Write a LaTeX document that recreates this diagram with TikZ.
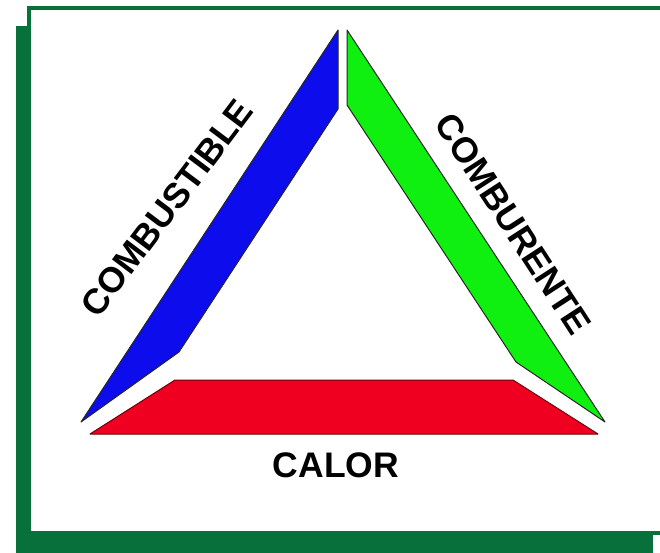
\documentclass[tikz,border=0pt]{standalone}
\usepackage{fontspec}
\setmainfont{Liberation Sans}
\usepackage{tikz}
\definecolor{FireFrame}{HTML}{08703A}
\definecolor{FireBlue}{HTML}{0C0CEC}
\definecolor{FireGreen}{HTML}{10F010}
\definecolor{FireRed}{HTML}{F00020}
\tikzset{
  side/.style={line width=1pt,line join=round},
  fuel/.style={side,fill=FireBlue,draw=black!85},
  oxid/.style={side,fill=FireGreen,draw=black!85},
  heat/.style={side,fill=FireRed,draw=FireRed!45!black},
  tag/.style={font=\bfseries\fontsize{35.5}{40}\selectfont,inner sep=0pt}
}
\begin{document}
\begin{tikzpicture}[x=1pt,y=-1pt]
  \useasboundingbox (0,0) rectangle (660,553);
  % frame and its shadow
  \fill[FireFrame] (16,26) rectangle (653,555);
  \draw[FireFrame,line width=4pt,fill=white] (29,8) rectangle (664,533);
  % the three sides
  \draw[fuel] (81,422) -- (338,30) -- (338,109) -- (179,352) -- cycle;
  \draw[oxid] (347,30) -- (605,422) -- (516,362) -- (347,105) -- cycle;
  \draw[heat] (90,434) -- (175,380) -- (513,380) -- (598,434) -- cycle;
  % labels
  \node[tag,rotate=53] (fuelname) at (167,208) {COMBUSTIBLE};
  \node[tag,rotate=-57] (oxidname) at (513,224) {COMBURENTE};
  \node[tag] (heatname) at (336,465) {CALOR};
\end{tikzpicture}
\end{document}
